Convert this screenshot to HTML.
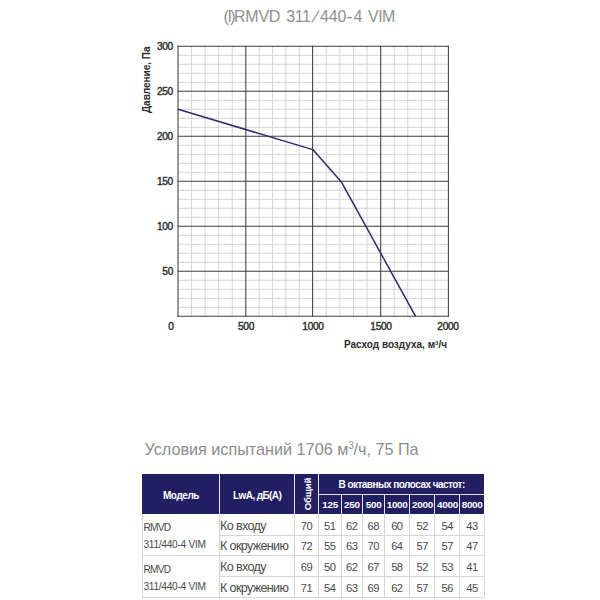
<!DOCTYPE html>
<html lang="ru">
<head>
<meta charset="utf-8">
<title>(I)RMVD 311/440-4 VIM</title>
<style>
  html, body { margin: 0; padding: 0; background: #ffffff; }
  body { width: 600px; height: 600px; position: relative; overflow: hidden;
         font-family: "Liberation Sans", sans-serif; color: #333; }
  .abs { position: absolute; white-space: nowrap; line-height: 1; }

  /* ---------- chart ---------- */
  #title { position: absolute; left: 0; top: 9.3px; width: 600px; height: 16px; font-size: 16px; line-height: 1; color: #909090; }
  #title span { position: absolute; top: 0; white-space: nowrap; }
  #chart { position: absolute; left: 0; top: 0; width: 600px; height: 420px; }
  .ytick { font-size: 10.2px; letter-spacing: -0.3px; font-weight: normal; -webkit-text-stroke: 0.4px #2b2b2b; color: #2b2b2b; width: 40px; text-align: right; left: 133px; }
  .xtick { font-size: 10.2px; letter-spacing: -0.3px; font-weight: normal; -webkit-text-stroke: 0.4px #2b2b2b; color: #2b2b2b; width: 60px; text-align: center; top: 322px; }
  #ylabel { font-size: 10px; font-weight: bold; color: #2b2b2b; left: 142px; top: 113px;
            transform-origin: 0 0; transform: rotate(-90deg); }
  #xlabel { font-size: 10px; font-weight: bold; color: #2b2b2b; right: 153px; top: 340px; }

  /* ---------- table ---------- */
  #cond { left: 144.5px; top: 440.8px; font-size: 16.2px; color: #8c8c8c; }
  #tbl { position: absolute; left: 142.2px; top: 474.3px; width: 342.1px; height: 125px; }
  .hd { position: absolute; background: #211e62; }
  .wl { position: absolute; background: #e4e4ec; }
  .ht { position: absolute; box-sizing: border-box; display: flex; align-items: center; justify-content: center;
         color: #fff; font-weight: bold; font-size: 10px; line-height: 1; white-space: nowrap; }
  .vt { position: absolute; width: 0; height: 0; }
  .vt span { position: absolute; left: 0; top: 0; transform: translate(-50%,-50%) rotate(-90deg);
         color: #fff; font-weight: bold; font-size: 9.7px; letter-spacing: -0.2px; line-height: 1; white-space: nowrap; }
  .ln { position: absolute; background: #d6d6d6; }
  .c { position: absolute; font-size: 11.2px; letter-spacing: -0.5px; text-indent: -0.5px; color: #4a4a4a; line-height: 1;
       text-align: center; white-space: nowrap; }
  .m { position: absolute; font-size: 10.2px; color: #4a4a4a; line-height: 1; white-space: nowrap; left: 1.3px; }
  .d { position: absolute; font-size: 12.6px; letter-spacing: -0.67px; color: #4a4a4a; line-height: 1; white-space: nowrap; left: 77.9px; }
</style>
</head>
<body>

<div id="title"><span style="left:223.6px;letter-spacing:-1.5px">(I)</span><span style="left:234.1px;letter-spacing:-0.3px">RMVD</span><span style="left:286.3px;letter-spacing:-0.5px">311</span><span style="left:310.8px;letter-spacing:0px;transform-origin:0 85%;transform:skewX(-19deg)">/</span><span style="left:320.0px;letter-spacing:-0.1px">440</span><span style="left:345.9px;letter-spacing:0px;transform-origin:0 50%;transform:scaleX(1.3)">-</span><span style="left:353.4px;letter-spacing:0px">4</span><span style="left:368.1px;letter-spacing:-0.6px">VIM</span></div>

<svg id="chart" viewBox="0 0 600 420">
  <g stroke="#d0d0d0" stroke-width="0.9" fill="none">
    <line x1="191.56" y1="46.3" x2="191.56" y2="316.3"/><line x1="205.12" y1="46.3" x2="205.12" y2="316.3"/><line x1="218.68" y1="46.3" x2="218.68" y2="316.3"/><line x1="232.24" y1="46.3" x2="232.24" y2="316.3"/><line x1="259.16" y1="46.3" x2="259.16" y2="316.3"/><line x1="272.52" y1="46.3" x2="272.52" y2="316.3"/><line x1="285.88" y1="46.3" x2="285.88" y2="316.3"/><line x1="299.24" y1="46.3" x2="299.24" y2="316.3"/><line x1="326.22" y1="46.3" x2="326.22" y2="316.3"/><line x1="339.84" y1="46.3" x2="339.84" y2="316.3"/><line x1="353.46" y1="46.3" x2="353.46" y2="316.3"/><line x1="367.08" y1="46.3" x2="367.08" y2="316.3"/><line x1="394.24" y1="46.3" x2="394.24" y2="316.3"/><line x1="407.78" y1="46.3" x2="407.78" y2="316.3"/><line x1="421.32" y1="46.3" x2="421.32" y2="316.3"/><line x1="434.86" y1="46.3" x2="434.86" y2="316.3"/><line x1="178" y1="55.3" x2="448.4" y2="55.3"/><line x1="178" y1="64.3" x2="448.4" y2="64.3"/><line x1="178" y1="73.3" x2="448.4" y2="73.3"/><line x1="178" y1="82.3" x2="448.4" y2="82.3"/><line x1="178" y1="100.3" x2="448.4" y2="100.3"/><line x1="178" y1="109.3" x2="448.4" y2="109.3"/><line x1="178" y1="118.3" x2="448.4" y2="118.3"/><line x1="178" y1="127.3" x2="448.4" y2="127.3"/><line x1="178" y1="145.3" x2="448.4" y2="145.3"/><line x1="178" y1="154.3" x2="448.4" y2="154.3"/><line x1="178" y1="163.3" x2="448.4" y2="163.3"/><line x1="178" y1="172.3" x2="448.4" y2="172.3"/><line x1="178" y1="190.3" x2="448.4" y2="190.3"/><line x1="178" y1="199.3" x2="448.4" y2="199.3"/><line x1="178" y1="208.3" x2="448.4" y2="208.3"/><line x1="178" y1="217.3" x2="448.4" y2="217.3"/><line x1="178" y1="235.3" x2="448.4" y2="235.3"/><line x1="178" y1="244.3" x2="448.4" y2="244.3"/><line x1="178" y1="253.3" x2="448.4" y2="253.3"/><line x1="178" y1="262.3" x2="448.4" y2="262.3"/><line x1="178" y1="280.3" x2="448.4" y2="280.3"/><line x1="178" y1="289.3" x2="448.4" y2="289.3"/><line x1="178" y1="298.3" x2="448.4" y2="298.3"/><line x1="178" y1="307.3" x2="448.4" y2="307.3"/>
  </g>
  <g stroke="#3e3e3e" stroke-width="1.05" fill="none">
    <line x1="178" y1="45.8" x2="178" y2="316.8"/><line x1="245.8" y1="45.8" x2="245.8" y2="316.8"/><line x1="312.6" y1="45.8" x2="312.6" y2="316.8"/><line x1="380.7" y1="45.8" x2="380.7" y2="316.8"/><line x1="448.4" y1="45.8" x2="448.4" y2="316.8"/><line x1="177.5" y1="46.3" x2="448.9" y2="46.3"/><line x1="177.5" y1="91.3" x2="448.9" y2="91.3"/><line x1="177.5" y1="136.3" x2="448.9" y2="136.3"/><line x1="177.5" y1="181.3" x2="448.9" y2="181.3"/><line x1="177.5" y1="226.3" x2="448.9" y2="226.3"/><line x1="177.5" y1="271.3" x2="448.9" y2="271.3"/><line x1="177.5" y1="316.3" x2="448.9" y2="316.3"/>
  </g>
  <polyline points="178,109.3 312.8,149.6 341.2,181.7 415.6,316.3" fill="none" stroke="#2d2b6c" stroke-width="1.5" stroke-linejoin="round"/>
</svg>

<div class="abs ytick" style="top:42.4px">300</div>
<div class="abs ytick" style="top:87.4px">250</div>
<div class="abs ytick" style="top:132.4px">200</div>
<div class="abs ytick" style="top:177.4px">150</div>
<div class="abs ytick" style="top:222.4px">100</div>
<div class="abs ytick" style="top:267.4px">50</div>

<div class="abs xtick" style="left:141px">0</div>
<div class="abs xtick" style="left:216px">500</div>
<div class="abs xtick" style="left:283px">1000</div>
<div class="abs xtick" style="left:351px">1500</div>
<div class="abs xtick" style="left:418px">2000</div>

<div class="abs" id="ylabel">Давление, Па</div>
<div class="abs" id="xlabel">Расход воздуха, м³/ч</div>

<div class="abs" id="cond">Условия испытаний 1706 м<span style="font-size:62%;letter-spacing:-0.3px;position:relative;top:-6px">3</span>/ч, 75 Па</div>

<div id="tbl">
<div class="hd" style="left:0;top:0;width:342.1px;height:39.7px"></div>
<div class="wl" style="left:77.1px;top:0;width:1px;height:39.7px"></div>
<div class="wl" style="left:151.8px;top:0;width:1px;height:39.7px"></div>
<div class="wl" style="left:176.3px;top:0;width:1px;height:39.7px"></div>
<div class="wl" style="left:198.4px;top:20.3px;width:1px;height:19.4px"></div>
<div class="wl" style="left:220.1px;top:20.3px;width:1px;height:19.4px"></div>
<div class="wl" style="left:241.6px;top:20.3px;width:1px;height:19.4px"></div>
<div class="wl" style="left:267.3px;top:20.3px;width:1px;height:19.4px"></div>
<div class="wl" style="left:292.3px;top:20.3px;width:1px;height:19.4px"></div>
<div class="wl" style="left:317.3px;top:20.3px;width:1px;height:19.4px"></div>
<div class="wl" style="left:176.8px;top:19.8px;width:165.3px;height:1px"></div>
<div class="ht" style="left:0px;top:0px;width:77.6px;height:39.7px;letter-spacing:-0.45px;padding-top:3px"><span>Модель</span></div>
<div class="ht" style="left:77.6px;top:0px;width:74.7px;height:39.7px;letter-spacing:-0.6px;padding-top:3px"><span>LwA, дБ(A)</span></div>
<div class="vt" style="left:165.35px;top:19.85px"><span>Общий</span></div>
<div class="ht" style="left:176.8px;top:0px;width:165.3px;height:20.3px;letter-spacing:-0.53px;padding-top:1.6px"><span>В октавных полосах частот:</span></div>
<div class="ht" style="left:176.8px;top:20.3px;width:22.1px;height:19.4px;font-size:9.9px;letter-spacing:-0.25px;padding-top:2.2px"><span>125</span></div>
<div class="ht" style="left:198.9px;top:20.3px;width:21.7px;height:19.4px;font-size:9.9px;letter-spacing:-0.25px;padding-top:2.2px"><span>250</span></div>
<div class="ht" style="left:220.6px;top:20.3px;width:21.5px;height:19.4px;font-size:9.9px;letter-spacing:-0.25px;padding-top:2.2px"><span>500</span></div>
<div class="ht" style="left:242.1px;top:20.3px;width:25.7px;height:19.4px;font-size:9.9px;letter-spacing:-0.25px;padding-top:2.2px"><span>1000</span></div>
<div class="ht" style="left:267.8px;top:20.3px;width:25px;height:19.4px;font-size:9.9px;letter-spacing:-0.25px;padding-top:2.2px"><span>2000</span></div>
<div class="ht" style="left:292.8px;top:20.3px;width:25px;height:19.4px;font-size:9.9px;letter-spacing:-0.25px;padding-top:2.2px"><span>4000</span></div>
<div class="ht" style="left:317.8px;top:20.3px;width:24.3px;height:19.4px;font-size:9.9px;letter-spacing:-0.25px;padding-top:2.2px"><span>8000</span></div>
<div class="ln" style="left:0;top:122.5px;width:342.1px;height:1px"></div>
<div class="ln" style="left:0;top:81.2px;width:342.1px;height:1px"></div>
<div class="ln" style="left:77.6px;top:60.7px;width:264.5px;height:1px"></div>
<div class="ln" style="left:77.6px;top:102.1px;width:264.5px;height:1px"></div>
<div class="ln" style="left:-0.5px;top:39.7px;width:1px;height:83.3px"></div>
<div class="ln" style="left:77.1px;top:39.7px;width:1px;height:83.3px"></div>
<div class="ln" style="left:151.8px;top:39.7px;width:1px;height:83.3px"></div>
<div class="ln" style="left:176.3px;top:39.7px;width:1px;height:83.3px"></div>
<div class="ln" style="left:198.4px;top:39.7px;width:1px;height:83.3px"></div>
<div class="ln" style="left:220.1px;top:39.7px;width:1px;height:83.3px"></div>
<div class="ln" style="left:241.6px;top:39.7px;width:1px;height:83.3px"></div>
<div class="ln" style="left:267.3px;top:39.7px;width:1px;height:83.3px"></div>
<div class="ln" style="left:292.3px;top:39.7px;width:1px;height:83.3px"></div>
<div class="ln" style="left:317.3px;top:39.7px;width:1px;height:83.3px"></div>
<div class="ln" style="left:341.6px;top:39.7px;width:1px;height:83.3px"></div>
<div class="d" style="top:45.7px">Ко входу</div>
<div class="c" style="left:152.3px;width:24.5px;top:46.7px">70</div>
<div class="c" style="left:176.8px;width:22.1px;top:46.7px">51</div>
<div class="c" style="left:198.9px;width:21.7px;top:46.7px">62</div>
<div class="c" style="left:220.6px;width:21.5px;top:46.7px">68</div>
<div class="c" style="left:242.1px;width:25.7px;top:46.7px">60</div>
<div class="c" style="left:267.8px;width:25px;top:46.7px">52</div>
<div class="c" style="left:292.8px;width:25px;top:46.7px">54</div>
<div class="c" style="left:317.8px;width:24.3px;top:46.7px">43</div>
<div class="d" style="top:65.7px">К окружению</div>
<div class="c" style="left:152.3px;width:24.5px;top:66.7px">72</div>
<div class="c" style="left:176.8px;width:22.1px;top:66.7px">55</div>
<div class="c" style="left:198.9px;width:21.7px;top:66.7px">63</div>
<div class="c" style="left:220.6px;width:21.5px;top:66.7px">70</div>
<div class="c" style="left:242.1px;width:25.7px;top:66.7px">64</div>
<div class="c" style="left:267.8px;width:25px;top:66.7px">57</div>
<div class="c" style="left:292.8px;width:25px;top:66.7px">57</div>
<div class="c" style="left:317.8px;width:24.3px;top:66.7px">47</div>
<div class="d" style="top:86.7px">Ко входу</div>
<div class="c" style="left:152.3px;width:24.5px;top:87.7px">69</div>
<div class="c" style="left:176.8px;width:22.1px;top:87.7px">50</div>
<div class="c" style="left:198.9px;width:21.7px;top:87.7px">62</div>
<div class="c" style="left:220.6px;width:21.5px;top:87.7px">67</div>
<div class="c" style="left:242.1px;width:25.7px;top:87.7px">58</div>
<div class="c" style="left:267.8px;width:25px;top:87.7px">52</div>
<div class="c" style="left:292.8px;width:25px;top:87.7px">53</div>
<div class="c" style="left:317.8px;width:24.3px;top:87.7px">41</div>
<div class="d" style="top:107.7px">К окружению</div>
<div class="c" style="left:152.3px;width:24.5px;top:108.7px">71</div>
<div class="c" style="left:176.8px;width:22.1px;top:108.7px">54</div>
<div class="c" style="left:198.9px;width:21.7px;top:108.7px">63</div>
<div class="c" style="left:220.6px;width:21.5px;top:108.7px">69</div>
<div class="c" style="left:242.1px;width:25.7px;top:108.7px">62</div>
<div class="c" style="left:267.8px;width:25px;top:108.7px">57</div>
<div class="c" style="left:292.8px;width:25px;top:108.7px">56</div>
<div class="c" style="left:317.8px;width:24.3px;top:108.7px">45</div>
<div class="m" style="top:49.07px;letter-spacing:-0.78px">RMVD</div>
<div class="m" style="top:65.67px;letter-spacing:-0.3px">311/440-4 VIM</div>
<div class="m" style="top:91.07px;letter-spacing:-0.78px">RMVD</div>
<div class="m" style="top:107.67px;letter-spacing:-0.3px">311/440-4 VIM</div>
</div>

</body>
</html>
